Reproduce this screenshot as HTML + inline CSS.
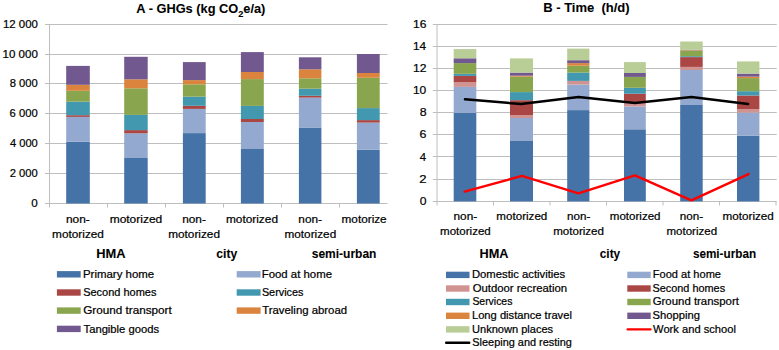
<!DOCTYPE html>
<html><head><meta charset="utf-8"><style>
html,body{margin:0;padding:0;background:#fff;}
svg{display:block;}
text{font-family:"Liberation Sans",sans-serif;fill:#000;stroke:#000;stroke-width:0.22px;}
text[font-weight=bold]{stroke-width:0.08px;}
</style></head><body>
<svg width="779" height="350" viewBox="0 0 779 350">
<defs><clipPath id="lclip"><rect x="0" y="0" width="387.5" height="350"/></clipPath></defs>
<rect width="779" height="350" fill="#fff"/>
<g id="left">
<line x1="45" y1="173.50" x2="387.5" y2="173.50" stroke="#BEBEBE" stroke-width="1"/>
<line x1="45" y1="143.50" x2="387.5" y2="143.50" stroke="#BEBEBE" stroke-width="1"/>
<line x1="45" y1="113.50" x2="387.5" y2="113.50" stroke="#BEBEBE" stroke-width="1"/>
<line x1="45" y1="83.50" x2="387.5" y2="83.50" stroke="#BEBEBE" stroke-width="1"/>
<line x1="45" y1="54.50" x2="387.5" y2="54.50" stroke="#BEBEBE" stroke-width="1"/>
<line x1="45" y1="24.50" x2="387.5" y2="24.50" stroke="#BEBEBE" stroke-width="1"/>
<line x1="45" y1="203.5" x2="387.5" y2="203.5" stroke="#BEBEBE" stroke-width="1"/>
<line x1="49.5" y1="24.5" x2="49.5" y2="207.5" stroke="#BEBEBE" stroke-width="1"/>
<line x1="107.5" y1="203.5" x2="107.5" y2="207.5" stroke="#BEBEBE" stroke-width="1"/>
<line x1="165.5" y1="203.5" x2="165.5" y2="207.5" stroke="#BEBEBE" stroke-width="1"/>
<line x1="223.5" y1="203.5" x2="223.5" y2="207.5" stroke="#BEBEBE" stroke-width="1"/>
<line x1="281.5" y1="203.5" x2="281.5" y2="207.5" stroke="#BEBEBE" stroke-width="1"/>
<line x1="339.5" y1="203.5" x2="339.5" y2="207.5" stroke="#BEBEBE" stroke-width="1"/>
<rect x="66.2" y="141.7" width="23.60" height="61.80" fill="#4572A7"/>
<rect x="66.2" y="116.9" width="23.60" height="24.80" fill="#93A9CF"/>
<rect x="66.2" y="115.2" width="23.60" height="1.70" fill="#AA4643"/>
<rect x="66.2" y="101.7" width="23.60" height="13.50" fill="#4198AF"/>
<rect x="66.2" y="90.8" width="23.60" height="10.90" fill="#89A54E"/>
<rect x="66.2" y="84.8" width="23.60" height="6.00" fill="#DB843D"/>
<rect x="66.2" y="65.9" width="23.60" height="18.90" fill="#71588F"/>
<rect x="124.2" y="158" width="23.50" height="45.50" fill="#4572A7"/>
<rect x="124.2" y="133.3" width="23.50" height="24.70" fill="#93A9CF"/>
<rect x="124.2" y="130.1" width="23.50" height="3.20" fill="#AA4643"/>
<rect x="124.2" y="114.9" width="23.50" height="15.20" fill="#4198AF"/>
<rect x="124.2" y="88.3" width="23.50" height="26.60" fill="#89A54E"/>
<rect x="124.2" y="79.3" width="23.50" height="9.00" fill="#DB843D"/>
<rect x="124.2" y="56.8" width="23.50" height="22.50" fill="#71588F"/>
<rect x="182.9" y="133.1" width="22.80" height="70.40" fill="#4572A7"/>
<rect x="182.9" y="108.9" width="22.80" height="24.20" fill="#93A9CF"/>
<rect x="182.9" y="105.8" width="22.80" height="3.10" fill="#AA4643"/>
<rect x="182.9" y="96.7" width="22.80" height="9.10" fill="#4198AF"/>
<rect x="182.9" y="84.3" width="22.80" height="12.40" fill="#89A54E"/>
<rect x="182.9" y="80.1" width="22.80" height="4.20" fill="#DB843D"/>
<rect x="182.9" y="62.1" width="22.80" height="18.00" fill="#71588F"/>
<rect x="240.9" y="148.4" width="22.90" height="55.10" fill="#4572A7"/>
<rect x="240.9" y="122" width="22.90" height="26.40" fill="#93A9CF"/>
<rect x="240.9" y="119" width="22.90" height="3.00" fill="#AA4643"/>
<rect x="240.9" y="105.9" width="22.90" height="13.10" fill="#4198AF"/>
<rect x="240.9" y="79.1" width="22.90" height="26.80" fill="#89A54E"/>
<rect x="240.9" y="72" width="22.90" height="7.10" fill="#DB843D"/>
<rect x="240.9" y="52.1" width="22.90" height="19.90" fill="#71588F"/>
<rect x="298.9" y="127.5" width="22.50" height="76.00" fill="#4572A7"/>
<rect x="298.9" y="97.6" width="22.50" height="29.90" fill="#93A9CF"/>
<rect x="298.9" y="95.8" width="22.50" height="1.80" fill="#AA4643"/>
<rect x="298.9" y="88.7" width="22.50" height="7.10" fill="#4198AF"/>
<rect x="298.9" y="78.3" width="22.50" height="10.40" fill="#89A54E"/>
<rect x="298.9" y="69.3" width="22.50" height="9.00" fill="#DB843D"/>
<rect x="298.9" y="57.3" width="22.50" height="12.00" fill="#71588F"/>
<rect x="356.9" y="149.7" width="22.80" height="53.80" fill="#4572A7"/>
<rect x="356.9" y="122.6" width="22.80" height="27.10" fill="#93A9CF"/>
<rect x="356.9" y="120.1" width="22.80" height="2.50" fill="#AA4643"/>
<rect x="356.9" y="108.1" width="22.80" height="12.00" fill="#4198AF"/>
<rect x="356.9" y="77.8" width="22.80" height="30.30" fill="#89A54E"/>
<rect x="356.9" y="73" width="22.80" height="4.80" fill="#DB843D"/>
<rect x="356.9" y="54" width="22.80" height="19.00" fill="#71588F"/>
</g>
<g id="right">
<line x1="432.8" y1="179.50" x2="776.7" y2="179.50" stroke="#BEBEBE" stroke-width="1"/>
<line x1="432.8" y1="156.50" x2="776.7" y2="156.50" stroke="#BEBEBE" stroke-width="1"/>
<line x1="432.8" y1="134.50" x2="776.7" y2="134.50" stroke="#BEBEBE" stroke-width="1"/>
<line x1="432.8" y1="112.50" x2="776.7" y2="112.50" stroke="#BEBEBE" stroke-width="1"/>
<line x1="432.8" y1="90.50" x2="776.7" y2="90.50" stroke="#BEBEBE" stroke-width="1"/>
<line x1="432.8" y1="68.50" x2="776.7" y2="68.50" stroke="#BEBEBE" stroke-width="1"/>
<line x1="432.8" y1="46.50" x2="776.7" y2="46.50" stroke="#BEBEBE" stroke-width="1"/>
<line x1="432.8" y1="24.50" x2="776.7" y2="24.50" stroke="#BEBEBE" stroke-width="1"/>
<line x1="432.8" y1="201.5" x2="776.7" y2="201.5" stroke="#BEBEBE" stroke-width="1"/>
<line x1="437.0" y1="24.3" x2="437.0" y2="205.4" stroke="#BEBEBE" stroke-width="1"/>
<line x1="493.50" y1="201.4" x2="493.50" y2="205.4" stroke="#BEBEBE" stroke-width="1"/>
<line x1="550.00" y1="201.4" x2="550.00" y2="205.4" stroke="#BEBEBE" stroke-width="1"/>
<line x1="606.50" y1="201.4" x2="606.50" y2="205.4" stroke="#BEBEBE" stroke-width="1"/>
<line x1="663.00" y1="201.4" x2="663.00" y2="205.4" stroke="#BEBEBE" stroke-width="1"/>
<line x1="719.50" y1="201.4" x2="719.50" y2="205.4" stroke="#BEBEBE" stroke-width="1"/>
<line x1="776.00" y1="201.4" x2="776.00" y2="205.4" stroke="#BEBEBE" stroke-width="1"/>
<rect x="453.7" y="112.8" width="22.60" height="88.60" fill="#4572A7"/>
<rect x="453.7" y="86.9" width="22.60" height="25.90" fill="#93A9CF"/>
<rect x="453.7" y="82" width="22.60" height="4.90" fill="#D19392"/>
<rect x="453.7" y="75.9" width="22.60" height="6.10" fill="#AA4643"/>
<rect x="453.7" y="73.8" width="22.60" height="2.10" fill="#4198AF"/>
<rect x="453.7" y="63.1" width="22.60" height="10.70" fill="#89A54E"/>
<rect x="453.7" y="58.3" width="22.60" height="4.80" fill="#71588F"/>
<rect x="453.7" y="49.1" width="22.60" height="9.20" fill="#B9CD96"/>
<rect x="510" y="141" width="23.00" height="60.40" fill="#4572A7"/>
<rect x="510" y="118" width="23.00" height="23.00" fill="#93A9CF"/>
<rect x="510" y="115" width="23.00" height="3.00" fill="#D19392"/>
<rect x="510" y="100.2" width="23.00" height="14.80" fill="#AA4643"/>
<rect x="510" y="92.1" width="23.00" height="8.10" fill="#4198AF"/>
<rect x="510" y="76.7" width="23.00" height="15.40" fill="#89A54E"/>
<rect x="510" y="75.7" width="23.00" height="1.00" fill="#DB843D"/>
<rect x="510" y="72.6" width="23.00" height="3.10" fill="#71588F"/>
<rect x="510" y="58.4" width="23.00" height="14.20" fill="#B9CD96"/>
<rect x="567.2" y="110.1" width="22.20" height="91.30" fill="#4572A7"/>
<rect x="567.2" y="84.5" width="22.20" height="25.60" fill="#93A9CF"/>
<rect x="567.2" y="80.9" width="22.20" height="3.60" fill="#D19392"/>
<rect x="567.2" y="72.6" width="22.20" height="8.30" fill="#4198AF"/>
<rect x="567.2" y="65.7" width="22.20" height="6.90" fill="#89A54E"/>
<rect x="567.2" y="63.1" width="22.20" height="2.60" fill="#DB843D"/>
<rect x="567.2" y="60.2" width="22.20" height="2.90" fill="#71588F"/>
<rect x="567.2" y="48.6" width="22.20" height="11.60" fill="#B9CD96"/>
<rect x="624" y="129.3" width="21.80" height="72.10" fill="#4572A7"/>
<rect x="624" y="106.5" width="21.80" height="22.80" fill="#93A9CF"/>
<rect x="624" y="103.4" width="21.80" height="3.10" fill="#D19392"/>
<rect x="624" y="93.7" width="21.80" height="9.70" fill="#AA4643"/>
<rect x="624" y="87.8" width="21.80" height="5.90" fill="#4198AF"/>
<rect x="624" y="76.9" width="21.80" height="10.90" fill="#89A54E"/>
<rect x="624" y="73" width="21.80" height="3.90" fill="#71588F"/>
<rect x="624" y="62.1" width="21.80" height="10.90" fill="#B9CD96"/>
<rect x="680.2" y="105" width="22.50" height="96.40" fill="#4572A7"/>
<rect x="680.2" y="70" width="22.50" height="35.00" fill="#93A9CF"/>
<rect x="680.2" y="66.9" width="22.50" height="3.10" fill="#D19392"/>
<rect x="680.2" y="57.1" width="22.50" height="9.80" fill="#AA4643"/>
<rect x="680.2" y="56.2" width="22.50" height="0.90" fill="#4198AF"/>
<rect x="680.2" y="50.7" width="22.50" height="5.50" fill="#89A54E"/>
<rect x="680.2" y="50.2" width="22.50" height="0.50" fill="#DB843D"/>
<rect x="680.2" y="49.7" width="22.50" height="0.50" fill="#71588F"/>
<rect x="680.2" y="41.5" width="22.50" height="8.20" fill="#B9CD96"/>
<rect x="737" y="135.6" width="22.40" height="65.80" fill="#4572A7"/>
<rect x="737" y="112.6" width="22.40" height="23.00" fill="#93A9CF"/>
<rect x="737" y="109.2" width="22.40" height="3.40" fill="#D19392"/>
<rect x="737" y="95.5" width="22.40" height="13.70" fill="#AA4643"/>
<rect x="737" y="91.2" width="22.40" height="4.30" fill="#4198AF"/>
<rect x="737" y="78.1" width="22.40" height="13.10" fill="#89A54E"/>
<rect x="737" y="76.6" width="22.40" height="1.50" fill="#DB843D"/>
<rect x="737" y="73.6" width="22.40" height="3.00" fill="#71588F"/>
<rect x="737" y="61.4" width="22.40" height="12.20" fill="#B9CD96"/>
<polyline points="465,99.3 521,104.0 578.5,97.1 634.9,102.9 691.5,97.1 748.1,104.0" fill="none" stroke="#000" stroke-width="2.5" stroke-linejoin="round" stroke-linecap="round"/>
<polyline points="464.6,191.6 521.9,175.9 578.4,193.4 634.9,175.4 691.4,200.3 748.5,174.1" fill="none" stroke="#FF0000" stroke-width="2.4" stroke-linejoin="round" stroke-linecap="round"/>
</g>
<rect x="56.9" y="271.10" width="23.80" height="6.4" fill="#4572A7"/>
<rect x="56.9" y="289.30" width="23.80" height="6.4" fill="#AA4643"/>
<rect x="56.9" y="307.40" width="23.80" height="6.4" fill="#89A54E"/>
<rect x="56.9" y="325.70" width="23.80" height="6.4" fill="#71588F"/>
<rect x="236.7" y="271.10" width="23.90" height="6.4" fill="#93A9CF"/>
<rect x="236.7" y="289.30" width="23.90" height="6.4" fill="#4198AF"/>
<rect x="236.7" y="307.40" width="23.90" height="6.4" fill="#DB843D"/>
<rect x="446" y="271.70" width="23.50" height="6.4" fill="#4572A7"/>
<rect x="446" y="285.30" width="23.50" height="6.4" fill="#D19392"/>
<rect x="446" y="298.80" width="23.50" height="6.4" fill="#4198AF"/>
<rect x="446" y="312.60" width="23.50" height="6.4" fill="#DB843D"/>
<rect x="446" y="326.20" width="23.50" height="6.4" fill="#B9CD96"/>
<line x1="446.2" y1="342.8" x2="469.2" y2="342.8" stroke="#000" stroke-width="2.5" stroke-linecap="round"/>
<rect x="627.3" y="271.70" width="23.40" height="6.4" fill="#93A9CF"/>
<rect x="627.3" y="285.30" width="23.40" height="6.4" fill="#AA4643"/>
<rect x="627.3" y="298.80" width="23.40" height="6.4" fill="#89A54E"/>
<rect x="627.3" y="312.60" width="23.40" height="6.4" fill="#71588F"/>
<line x1="627.5" y1="329.4" x2="650.6" y2="329.4" stroke="#FF0000" stroke-width="2.2" stroke-linecap="round"/>
<text x="136.36" y="12.8" font-size="13" font-weight="bold" textLength="129.03" lengthAdjust="spacingAndGlyphs">A - GHGs (kg CO<tspan font-size="9.36" dy="3.8">2</tspan><tspan dy="-3.8">e/a)</tspan></text>
<text x="543.23" y="11.9" font-size="13" font-weight="bold" textLength="86.41" lengthAdjust="spacingAndGlyphs">B - Time&#160; (h/d)</text>
<text x="31.37" y="206.75" font-size="11.5" font-weight="normal" textLength="6.49" lengthAdjust="spacingAndGlyphs">0</text>
<text x="9.67" y="176.91666666666666" font-size="11.5" font-weight="normal" textLength="28.06" lengthAdjust="spacingAndGlyphs">2 000</text>
<text x="9.90" y="147.08333333333334" font-size="11.5" font-weight="normal" textLength="27.90" lengthAdjust="spacingAndGlyphs">4 000</text>
<text x="9.61" y="117.24999999999999" font-size="11.5" font-weight="normal" textLength="28.10" lengthAdjust="spacingAndGlyphs">6 000</text>
<text x="9.71" y="87.41666666666666" font-size="11.5" font-weight="normal" textLength="28.05" lengthAdjust="spacingAndGlyphs">8 000</text>
<text x="2.53" y="57.58333333333333" font-size="11.5" font-weight="normal" textLength="35.36" lengthAdjust="spacingAndGlyphs">10 000</text>
<text x="2.93" y="27.74999999999999" font-size="11.5" font-weight="normal" textLength="34.95" lengthAdjust="spacingAndGlyphs">12 000</text>
<text x="419.71" y="204.79999999999998" font-size="11.5" font-weight="normal" textLength="6.79" lengthAdjust="spacingAndGlyphs">0</text>
<text x="419.37" y="182.68749999999997" font-size="11.5" font-weight="normal" textLength="7.30" lengthAdjust="spacingAndGlyphs">2</text>
<text x="419.87" y="160.575" font-size="11.5" font-weight="normal" textLength="6.33" lengthAdjust="spacingAndGlyphs">4</text>
<text x="419.58" y="138.4625" font-size="11.5" font-weight="normal" textLength="6.90" lengthAdjust="spacingAndGlyphs">6</text>
<text x="419.65" y="116.35" font-size="11.5" font-weight="normal" textLength="6.88" lengthAdjust="spacingAndGlyphs">8</text>
<text x="412.95" y="94.2375" font-size="11.5" font-weight="normal" textLength="13.34" lengthAdjust="spacingAndGlyphs">10</text>
<text x="412.91" y="72.125" font-size="11.5" font-weight="normal" textLength="13.49" lengthAdjust="spacingAndGlyphs">12</text>
<text x="412.93" y="50.012500000000024" font-size="11.5" font-weight="normal" textLength="13.13" lengthAdjust="spacingAndGlyphs">14</text>
<text x="412.93" y="27.900000000000013" font-size="11.5" font-weight="normal" textLength="13.44" lengthAdjust="spacingAndGlyphs">16</text>
<text x="65.92" y="223.2" font-size="11.2" font-weight="normal" textLength="23.82" lengthAdjust="spacingAndGlyphs">non-</text>
<text x="52.04" y="237.6" font-size="11.2" font-weight="normal" textLength="51.91" lengthAdjust="spacingAndGlyphs">motorized</text>
<text x="109.68" y="223.2" font-size="11.2" font-weight="normal" textLength="52.56" lengthAdjust="spacingAndGlyphs">motorized</text>
<text x="182.20" y="223.2" font-size="11.2" font-weight="normal" textLength="23.72" lengthAdjust="spacingAndGlyphs">non-</text>
<text x="168.16" y="237.6" font-size="11.2" font-weight="normal" textLength="51.80" lengthAdjust="spacingAndGlyphs">motorized</text>
<text x="225.90" y="223.2" font-size="11.2" font-weight="normal" textLength="52.13" lengthAdjust="spacingAndGlyphs">motorized</text>
<text x="298.36" y="223.2" font-size="11.2" font-weight="normal" textLength="23.61" lengthAdjust="spacingAndGlyphs">non-</text>
<text x="284.50" y="237.6" font-size="11.2" font-weight="normal" textLength="51.68" lengthAdjust="spacingAndGlyphs">motorized</text>
<text x="341.56" y="223.2" font-size="11.2" font-weight="normal" textLength="45.13" lengthAdjust="spacingAndGlyphs">motorize</text>
<text x="453.54" y="220.3" font-size="11.2" font-weight="normal" textLength="23.69" lengthAdjust="spacingAndGlyphs">non-</text>
<text x="440.05" y="234.6" font-size="11.2" font-weight="normal" textLength="50.76" lengthAdjust="spacingAndGlyphs">motorized</text>
<text x="496.38" y="220.3" font-size="11.2" font-weight="normal" textLength="50.90" lengthAdjust="spacingAndGlyphs">motorized</text>
<text x="567.11" y="220.3" font-size="11.2" font-weight="normal" textLength="23.25" lengthAdjust="spacingAndGlyphs">non-</text>
<text x="553.17" y="234.6" font-size="11.2" font-weight="normal" textLength="50.85" lengthAdjust="spacingAndGlyphs">motorized</text>
<text x="609.78" y="220.3" font-size="11.2" font-weight="normal" textLength="50.77" lengthAdjust="spacingAndGlyphs">motorized</text>
<text x="679.72" y="220.3" font-size="11.2" font-weight="normal" textLength="23.34" lengthAdjust="spacingAndGlyphs">non-</text>
<text x="666.51" y="234.6" font-size="11.2" font-weight="normal" textLength="50.55" lengthAdjust="spacingAndGlyphs">motorized</text>
<text x="722.55" y="220.3" font-size="11.2" font-weight="normal" textLength="51.31" lengthAdjust="spacingAndGlyphs">motorized</text>
<text x="96.21" y="258.2" font-size="12.5" font-weight="bold" textLength="29.32" lengthAdjust="spacingAndGlyphs">HMA</text>
<text x="216.33" y="257.8" font-size="12.5" font-weight="bold" textLength="20.93" lengthAdjust="spacingAndGlyphs">city</text>
<text x="311.75" y="258.3" font-size="12.5" font-weight="bold" textLength="64.68" lengthAdjust="spacingAndGlyphs">semi-urban</text>
<text x="479.48" y="257.9" font-size="12.5" font-weight="bold" textLength="28.93" lengthAdjust="spacingAndGlyphs">HMA</text>
<text x="599.78" y="257.5" font-size="12.5" font-weight="bold" textLength="20.41" lengthAdjust="spacingAndGlyphs">city</text>
<text x="692.90" y="257.9" font-size="12.5" font-weight="bold" textLength="63.19" lengthAdjust="spacingAndGlyphs">semi-urban</text>
<text x="82.95" y="278" font-size="11" font-weight="normal" textLength="71.24" lengthAdjust="spacingAndGlyphs">Primary home</text>
<text x="83.15" y="296.2" font-size="11" font-weight="normal" textLength="73.31" lengthAdjust="spacingAndGlyphs">Second homes</text>
<text x="83.23" y="314.3" font-size="11" font-weight="normal" textLength="88.52" lengthAdjust="spacingAndGlyphs">Ground transport</text>
<text x="83.53" y="332.6" font-size="11" font-weight="normal" textLength="75.58" lengthAdjust="spacingAndGlyphs">Tangible goods</text>
<text x="261.68" y="278" font-size="11" font-weight="normal" textLength="70.29" lengthAdjust="spacingAndGlyphs">Food at home</text>
<text x="261.92" y="296.2" font-size="11" font-weight="normal" textLength="41.49" lengthAdjust="spacingAndGlyphs">Services</text>
<text x="262.22" y="314.3" font-size="11" font-weight="normal" textLength="84.85" lengthAdjust="spacingAndGlyphs">Traveling abroad</text>
<text x="471.95" y="277.8" font-size="11" font-weight="normal" textLength="93.29" lengthAdjust="spacingAndGlyphs">Domestic activities</text>
<text x="472.68" y="291.6" font-size="11" font-weight="normal" textLength="94.45" lengthAdjust="spacingAndGlyphs">Outdoor recreation</text>
<text x="472.39" y="305.4" font-size="11" font-weight="normal" textLength="40.03" lengthAdjust="spacingAndGlyphs">Services</text>
<text x="471.95" y="319.0" font-size="11" font-weight="normal" textLength="99.93" lengthAdjust="spacingAndGlyphs">Long distance travel</text>
<text x="472.02" y="332.6" font-size="11" font-weight="normal" textLength="81.11" lengthAdjust="spacingAndGlyphs">Unknown places</text>
<text x="472.34" y="346.3" font-size="11" font-weight="normal" textLength="99.45" lengthAdjust="spacingAndGlyphs">Sleeping and resting</text>
<text x="652.81" y="277.8" font-size="11" font-weight="normal" textLength="68.20" lengthAdjust="spacingAndGlyphs">Food at home</text>
<text x="652.51" y="291.6" font-size="11" font-weight="normal" textLength="72.63" lengthAdjust="spacingAndGlyphs">Second homes</text>
<text x="652.66" y="305.4" font-size="11" font-weight="normal" textLength="86.28" lengthAdjust="spacingAndGlyphs">Ground transport</text>
<text x="652.61" y="319.0" font-size="11" font-weight="normal" textLength="47.44" lengthAdjust="spacingAndGlyphs">Shopping</text>
<text x="653.08" y="332.6" font-size="11" font-weight="normal" textLength="82.83" lengthAdjust="spacingAndGlyphs">Work and school</text>
</svg>
</body></html>
